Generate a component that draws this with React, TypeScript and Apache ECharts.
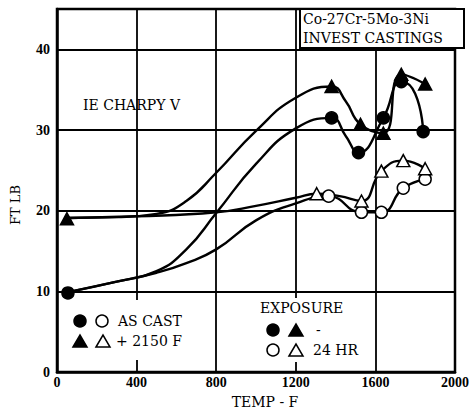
import React, { useEffect, useRef } from "react";
import * as echarts from "echarts";

// ---- Data ----
// Markers: as cast, no exposure (filled circles)
const asCastTemp = [55, 1380, 1515, 1640, 1730, 1840];
const asCastFt = [9.8, 31.5, 27.2, 31.5, 36.0, 29.8];
// As cast, 24 HR exposure (open circles)
const asCast24Temp = [1365, 1530, 1630, 1740, 1850];
const asCast24Ft = [21.8, 19.8, 19.8, 22.8, 23.9];
// +2150 F, no exposure (filled triangles)
const hot2150Temp = [50, 1380, 1525, 1640, 1730, 1850];
const hot2150Ft = [19.0, 35.4, 30.7, 29.6, 36.9, 35.7];
// +2150 F, 24 HR exposure (open triangles)
const hot2150_24Temp = [1305, 1530, 1630, 1740, 1850];
const hot2150_24Ft = [22.1, 21.2, 24.9, 26.2, 25.2];

// Hand-drawn fitted curves
const asCastCurveTemp = [55, 300, 500, 650, 800, 1000, 1200, 1380, 1450, 1515, 1640, 1730, 1800, 1840];
const asCastCurveFt = [9.9, 11.2, 12.5, 15.2, 19.7, 25.8, 30.2, 31.5, 29.3, 27.2, 31.5, 36.0, 34.5, 29.8];
const asCast24CurveTemp = [55, 300, 500, 650, 800, 1000, 1200, 1365, 1530, 1630, 1740, 1850];
const asCast24CurveFt = [9.9, 11.2, 12.3, 13.5, 15.2, 18.8, 20.9, 21.8, 19.8, 19.8, 22.8, 23.9];
const hot2150CurveTemp = [50, 300, 500, 650, 800, 1000, 1200, 1380, 1450, 1525, 1640, 1730, 1850];
const hot2150CurveFt = [19.1, 19.2, 19.6, 21.2, 24.7, 29.9, 34.0, 35.4, 33.6, 30.7, 29.6, 36.9, 35.7];
const hot2150_24CurveTemp = [50, 400, 800, 1000, 1200, 1305, 1420, 1530, 1630, 1740, 1850];
const hot2150_24CurveFt = [19.1, 19.3, 19.8, 20.6, 21.6, 22.1, 21.8, 21.2, 24.9, 26.2, 25.2];

const xMin = 0;
const xMax = 2000;
const xStep = 400;
const yMin = 0;
const yMax = 45;
const yStep = 10;

const TICK_FONT = "Liberation Serif";
const FONT = "DejaVu Serif";

const zip = (xs: number[], ys: number[]) => xs.map((x, i) => [x, ys[i]]);

function tri(cx: number, cy: number, filled: boolean) {
  return {
    type: "polygon",
    z: 20,
    shape: { points: [[cx - 7, cy + 6], [cx, cy - 6], [cx + 7, cy + 6]] },
    style: { fill: filled ? "#000" : "#fff", stroke: "#000", lineWidth: 1.5 },
  };
}
function circ(cx: number, cy: number, filled: boolean) {
  return {
    type: "circle",
    z: 20,
    shape: { cx, cy, r: 6 },
    style: { fill: filled ? "#000" : "#fff", stroke: "#000", lineWidth: 1.5 },
  };
}
function txt(x: number, y: number, text: string, size = 13, align = "left", extra: any = {}) {
  return {
    type: "text",
    z: 20,
    x,
    y,
    ...extra,
    style: {
      text,
      fill: "#000",
      font: `${size}px "${FONT}"`,
      align,
      verticalAlign: "middle",
    },
  };
}

export default function App() {
  const ref = useRef<HTMLDivElement>(null);
  useEffect(() => {
    if (!ref.current) return;
    const chart = echarts.init(ref.current, undefined, { renderer: "svg" });
    const curve = (data: number[][]) => ({
      type: "line",
      data,
      smooth: 0.5,
      symbol: "none",
      lineStyle: { color: "#000", width: 2.4 },
      z: 2,
      silent: true,
    });
    const marker = (data: number[][], symbol: string, filled: boolean) => ({
      type: "scatter",
      data,
      symbol,
      symbolSize: symbol === "triangle" ? [13, 12] : 12,
      itemStyle: { color: filled ? "#000" : "#fff", borderColor: "#000", borderWidth: 1.5, opacity: 1 },
      z: 4,
    });
    chart.setOption({
      animation: false,
      backgroundColor: "#fff",
      grid: {
        left: 57,
        right: 8,
        top: 9,
        bottom: 41,
        show: true,
        borderColor: "#000",
        borderWidth: 2.5,
        backgroundColor: "transparent",
      },
      xAxis: {
        type: "value",
        min: xMin,
        max: xMax,
        interval: xStep,
        axisLine: { show: true, lineStyle: { color: "#000", width: 2.5 } },
        axisTick: { show: false },
        splitLine: { show: true, lineStyle: { color: "#000", width: 1.8 } },
        axisLabel: {
          color: "#000",
          fontFamily: TICK_FONT,
          fontSize: 14,
          fontWeight: "bold",
          margin: 3,
          formatter: (v: number) => String(v),
        },
      },
      yAxis: {
        type: "value",
        min: yMin,
        max: yMax,
        interval: yStep,
        axisLine: { show: true, lineStyle: { color: "#000", width: 2.5 } },
        axisTick: { show: false },
        splitLine: { show: true, lineStyle: { color: "#000", width: 1.8 } },
        axisLabel: {
          color: "#000",
          fontFamily: TICK_FONT,
          fontSize: 14,
          fontWeight: "bold",
          margin: 7,
          formatter: (v: number) => (v % yStep === 0 ? String(v) : ""),
        },
      },
      series: [
        curve(zip(asCastCurveTemp, asCastCurveFt)),
        curve(zip(asCast24CurveTemp, asCast24CurveFt)),
        curve(zip(hot2150CurveTemp, hot2150CurveFt)),
        curve(zip(hot2150_24CurveTemp, hot2150_24CurveFt)),
        marker(zip(asCast24Temp, asCast24Ft), "circle", false),
        marker(zip(hot2150_24Temp, hot2150_24Ft), "triangle", false),
        marker(zip(asCastTemp, asCastFt), "circle", true),
        marker(zip(hot2150Temp, hot2150Ft), "triangle", true),
      ],
      graphic: [
        // title box
        {
          type: "rect",
          z: 15,
          shape: { x: 300, y: 9, width: 164, height: 39 },
          style: { fill: "#fff", stroke: "#000", lineWidth: 2 },
        },
        txt(303, 19, "Co-27Cr-5Mo-3Ni", 14),
        txt(303, 38, "INVEST CASTINGS", 14),
        txt(83, 105, "IE CHARPY V", 14),
        // left legend
        { type: "rect", z: 15, shape: { x: 70, y: 300, width: 125, height: 60 }, style: { fill: "#fff" } },
        circ(80, 321, true),
        circ(102, 321, false),
        txt(118, 321, "AS CAST", 14),
        tri(80, 341, true),
        tri(103, 341, false),
        txt(116, 341, "+ 2150 F", 14),
        // exposure legend
        { type: "rect", z: 15, shape: { x: 255, y: 298, width: 110, height: 64 }, style: { fill: "#fff" } },
        txt(260, 308, "EXPOSURE", 14),
        circ(273, 330, true),
        tri(296, 330, true),
        txt(316, 330, "-", 14),
        circ(273, 350, false),
        tri(296, 350, false),
        txt(313, 350, "24 HR", 14),
        // axis titles
        txt(15, 205, "FT LB", 13, "center", { rotation: Math.PI / 2 }),
        txt(265, 402, "TEMP - F", 14, "center"),
      ],
    });
    return () => chart.dispose();
  }, []);
  return (
    <div
      ref={ref}
      style={{ position: "absolute", left: 0, top: 0, width: 472, height: 413 }}
    />
  );
}
